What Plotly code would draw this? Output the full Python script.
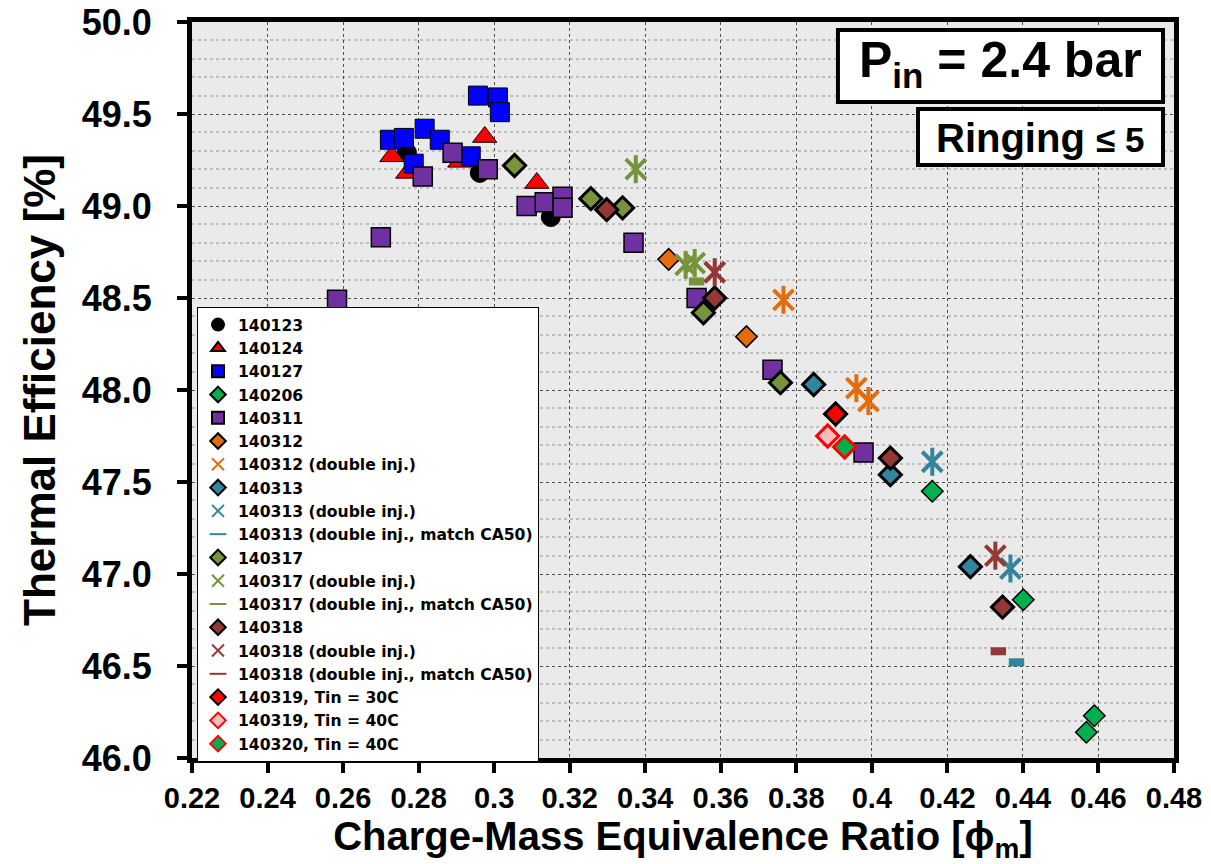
import plotly.graph_objects as go

# ---------------- data: equivalence ratio (phi_m) vs thermal efficiency (%) ----------------
x_140123 = [0.2769, 0.2962, 0.3150]
y_140123 = [49.29, 49.18, 48.94]

x_140124 = [0.2729, 0.2771, 0.2909, 0.2975, 0.3113]
y_140124 = [49.27, 49.18, 49.24, 49.375, 49.125]

x_140127 = [0.2724, 0.2761, 0.2787, 0.2816, 0.2856, 0.2938, 0.2957, 0.3010, 0.3015]
y_140127 = [49.36, 49.37, 49.23, 49.42, 49.36, 49.27, 49.60, 49.59, 49.51]

x_140206 = [0.4160, 0.4401, 0.4589, 0.4568]
y_140206 = [47.45, 46.86, 46.23, 46.14]

x_140311 = [0.2584, 0.2700, 0.2811, 0.2890, 0.2983, 0.3086, 0.3134, 0.3181, 0.3181,
            0.3369, 0.3536, 0.3737, 0.3978]
y_140311 = [48.49, 48.83, 49.16, 49.29, 49.20, 49.00, 49.02, 49.05, 48.99,
            48.80, 48.50, 48.11, 47.66]

x_140312 = [0.3462, 0.3668]
y_140312 = [48.71, 48.29]

x_140312_di = [0.3766, 0.3959, 0.3991]
y_140312_di = [48.49, 48.01, 47.94]

x_140313 = [0.3846, 0.4049, 0.4261]
y_140313 = [48.03, 47.54, 47.04]

x_140313_di = [0.4160, 0.4367]
y_140313_di = [47.61, 47.03]

x_140313_ca50 = [0.4383]
y_140313_ca50 = [46.52]

x_140317 = [0.3054, 0.3256, 0.3340, 0.3554, 0.3758]
y_140317 = [49.22, 49.04, 48.99, 48.42, 48.04]

x_140317_di = [0.3375, 0.3507, 0.3531]
y_140317_di = [49.20, 48.68, 48.69]

x_140317_ca50 = [0.3536]
y_140317_ca50 = [48.59]

x_140318 = [0.3298, 0.3584, 0.4049, 0.4346]
y_140318 = [48.98, 48.50, 47.63, 46.82]

x_140318_di = [0.3584, 0.4327]
y_140318_di = [48.64, 47.10]

x_140318_ca50 = [0.4335]
y_140318_ca50 = [46.58]

x_140319_30 = [0.3904]
y_140319_30 = [47.87]

x_140319_40 = [0.3883]
y_140319_40 = [47.75]

x_140320_40 = [0.3928]
y_140320_40 = [47.69]

x_tick_vals = [0.22, 0.24, 0.26, 0.28, 0.30, 0.32, 0.34, 0.36, 0.38, 0.40, 0.42, 0.44, 0.46, 0.48]
x_tick_text = ["0.22", "0.24", "0.26", "0.28", "0.3", "0.32", "0.34", "0.36", "0.38",
               "0.4", "0.42", "0.44", "0.46", "0.48"]

# ---------------- styles ----------------
ORANGE = "#E46C0A"
TEAL = "#31859C"
OLIVE = "#77933C"
BROWN = "#953735"
PURPLE = "#7030A0"
GREEN = "#00B050"

fig = go.Figure()


def add_marker(name, xs, ys, symbol, size, color, lcolor, lwidth):
    fig.add_trace(go.Scatter(
        x=xs, y=ys, mode="markers", name=name, legendgroup=name,
        marker=dict(symbol=symbol, size=size, color=color,
                    line=dict(color=lcolor, width=lwidth)),
    ))


def add_star(name, xs, ys, color):
    # six-armed star: diagonal cross plus a vertical stroke
    fig.add_trace(go.Scatter(
        x=xs, y=ys, mode="markers", name=name, legendgroup=name,
        marker=dict(symbol="x-thin-open", size=20, color=color,
                    line=dict(color=color, width=4)),
    ))
    fig.add_trace(go.Scatter(
        x=xs, y=ys, mode="markers", name=name, legendgroup=name, showlegend=False,
        marker=dict(symbol="line-ns-open", size=20, color=color,
                    line=dict(color=color, width=4)),
    ))


def add_dash(name, xs, ys, color):
    fig.add_trace(go.Scatter(
        x=xs, y=ys, mode="markers", name=name, legendgroup=name,
        marker=dict(symbol="line-ew-open", size=11, color=color,
                    line=dict(color=color, width=8)),
    ))


add_marker("140123", x_140123, y_140123, "circle", 19, "#000000", "#000000", 1)
add_marker("140124", x_140124, y_140124, "triangle-up", 21, "#FF0000", "#000000", 1)
add_marker("140127", x_140127, y_140127, "square", 19, "#0000FF", "#000000", 1)
add_marker("140206", x_140206, y_140206, "diamond", 16.5, GREEN, "#000000", 1.5)
add_marker("140311", x_140311, y_140311, "square", 19, PURPLE, "#000000", 1.5)
add_marker("140312", x_140312, y_140312, "diamond", 16.5, ORANGE, "#000000", 1.5)
add_star("140312 (double inj.)", x_140312_di, y_140312_di, ORANGE)
add_marker("140313", x_140313, y_140313, "diamond", 17, TEAL, "#000000", 3)
add_star("140313 (double inj.)", x_140313_di, y_140313_di, TEAL)
add_dash("140313 (double inj., match CA50)", x_140313_ca50, y_140313_ca50, TEAL)
add_marker("140317", x_140317, y_140317, "diamond", 17, OLIVE, "#000000", 3)
add_star("140317 (double inj.)", x_140317_di, y_140317_di, OLIVE)
add_dash("140317 (double inj., match CA50)", x_140317_ca50, y_140317_ca50, OLIVE)
add_marker("140318", x_140318, y_140318, "diamond", 17, BROWN, "#000000", 3)
add_star("140318 (double inj.)", x_140318_di, y_140318_di, BROWN)
add_dash("140318 (double inj., match CA50)", x_140318_ca50, y_140318_ca50, BROWN)
add_marker("140319, Tin = 30C", x_140319_30, y_140319_30, "diamond", 17, "#FF0000", "#000000", 3)
add_marker("140319, Tin = 40C", x_140319_40, y_140319_40, "diamond", 17, "#FFBDBD", "#FF0000", 3)
add_marker("140320, Tin = 40C", x_140320_40, y_140320_40, "diamond", 17, GREEN, "#FF0000", 3)

BASE_FONT = "Liberation Sans, Arial, sans-serif"

fig.update_xaxes(
    range=[0.22, 0.48], automargin=False,
    tickvals=x_tick_vals, ticktext=x_tick_text,
    tickfont=dict(family=BASE_FONT, size=29, color="#000000", weight="bold"),
    ticks="outside", ticklen=10, tickwidth=4, tickcolor="#000000",
    showline=True, linecolor="#000000", linewidth=5, mirror=True,
    showgrid=True, gridcolor="#505050", gridwidth=1, griddash="3px,3px",
    zeroline=False,
    title=dict(text="Charge-Mass Equivalence Ratio [ϕ<sub>m</sub>]",
               font=dict(family=BASE_FONT, size=40, color="#000000", weight="bold"),
               standoff=8),
)

fig.update_yaxes(
    range=[46.0, 50.0], automargin=False,
    dtick=0.5, tick0=46.0, tickformat=".1f",
    tickfont=dict(family=BASE_FONT, size=36, color="#000000", weight="bold"),
    ticks="outside", ticklen=10, tickwidth=4, tickcolor="#000000",
    ticklabelstandoff=18,
    showline=True, linecolor="#000000", linewidth=5, mirror=True,
    showgrid=True, gridcolor="#505050", gridwidth=1, griddash="3px,3px",
    minor=dict(dtick=0.1, showgrid=True, gridcolor="#BFBFBF", gridwidth=2, ticks=""),
    zeroline=False,
    title=dict(text="Thermal Efficiency [%]",
               font=dict(family=BASE_FONT, size=44, color="#000000", weight="bold"),
               standoff=14),
)

# condition labels in boxed panels (top right)
fig.add_shape(type="rect", xref="paper", yref="paper",
              x0=0.6578, x1=0.9888, y0=0.8913, y1=0.9891,
              line=dict(color="#000000", width=4), fillcolor="#FFFFFF", layer="above")
fig.add_shape(type="rect", xref="paper", yref="paper",
              x0=0.7393, x1=0.9888, y0=0.8057, y1=0.8818,
              line=dict(color="#000000", width=4), fillcolor="#FFFFFF", layer="above")
fig.add_annotation(xref="paper", yref="paper", x=0.8233, y=0.944,
                   text="<b>P<sub>in</sub> = 2.4 bar</b>", showarrow=False,
                   xanchor="center", yanchor="middle",
                   font=dict(family=BASE_FONT, size=50, color="#000000"))
fig.add_annotation(xref="paper", yref="paper", x=0.864, y=0.843,
                   text="<b>Ringing <span style='font-size:35px'>≤ 5</span></b>",
                   showarrow=False, xanchor="center", yanchor="middle",
                   font=dict(family=BASE_FONT, size=40, color="#000000"))

fig.update_layout(
    width=1211, height=864,
    margin=dict(l=192, r=37, t=22, b=106, autoexpand=False),
    paper_bgcolor="#FFFFFF", plot_bgcolor="#EAEAEA",
    font=dict(family=BASE_FONT, color="#000000"),
    showlegend=True,
    legend=dict(
        x=0.0051, y=0.6128, xanchor="left", yanchor="top",
        bgcolor="#FFFFFF", bordercolor="#000000", borderwidth=1,
        font=dict(family="DejaVu Sans, sans-serif", size=15.6, color="#000000", weight="bold"),
        itemsizing="constant", itemwidth=30, tracegroupgap=0,
    ),
)

fig.write_html("out.html")
